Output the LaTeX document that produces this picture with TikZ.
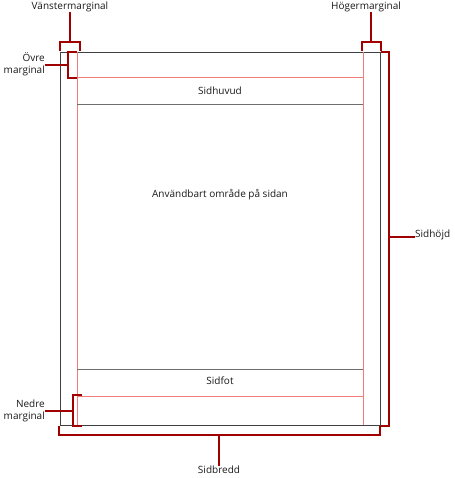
\documentclass[tikz,border=0pt]{standalone}
\usepackage{fontspec}
\setmainfont{Open Sans}
\usetikzlibrary{positioning, calc}
\definecolor{cdark}{HTML}{404040}
\definecolor{cline}{HTML}{6E6E6E}
\definecolor{cpink}{HTML}{F07C7C}
\definecolor{cmark}{HTML}{A00000}
\tikzset{
  every picture/.style={font=\fontsize{10}{12}\selectfont, x=1pt, y=-1pt},
  page/.style={draw=cdark, line width=0.9pt},
  guide/.style={draw=cpink, line width=0.7pt},
  rule/.style={draw=cline, line width=0.7pt},
  brace/.style={draw=cmark, line width=1.8pt, line cap=rect},
  lbl/.style={inner sep=1pt, text=black!90},
}
\begin{document}
\begin{tikzpicture}
  \useasboundingbox (0,0) rectangle (454,478);
  % the sheet
  \coordinate (pnw) at (60,52);
  \coordinate (pse) at (380,425);
  \draw[page] (pnw) rectangle (pse);
  % margin guides
  \draw[guide] (77,52) -- (77,425);
  \draw[guide] (363,52) -- (363,425);
  \draw[guide] (77,77) -- (363,77);
  \draw[guide] (77,396) -- (363,396);
  % header and footer rules
  \draw[rule] (77,104) -- (363,104);
  \draw[rule] (77,369) -- (363,369);
  \node[lbl] (head) at (220,91) {Sidhuvud};
  \node[lbl] (body) at (220,195) {Användbart område på sidan};
  \node[lbl] (foot) at (220,381) {Sidfot};
  % labels
  \node[lbl] (vm) at (70,7) {Vänstermarginal};
  \node[lbl] (hm) at (366,7) {Högermarginal};
  \node[lbl, align=right, anchor=east] (om) at (46,64) {Övre\\marginal};
  \node[lbl, align=right, anchor=east] (nm) at (46,411) {Nedre\\marginal};
  \node[lbl, anchor=west] (sh) at (414,235) {Sidhöjd};
  \node[lbl] (sb) at (219,470) {Sidbredd};
  % brackets
  \coordinate (vmb) at (70,42);
  \draw[brace] (60,50) -- (60,42) -- (80,42) -- (80,50);
  \draw[brace] (vmb) -- (vm.south -| vmb);
  \coordinate (hmb) at (371,42);
  \draw[brace] (362,50) -- (362,42) -- (381,42) -- (381,50);
  \draw[brace] (hmb) -- (hm.south -| hmb);
  \coordinate (omb) at (68,65);
  \draw[brace] (76,52) -- (68,52) -- (68,78) -- (76,78);
  \draw[brace] (omb) -- (om.east |- omb);
  \coordinate (nmb) at (73,411);
  \draw[brace] (81,395) -- (73,395) -- (73,426) -- (81,426);
  \draw[brace] (nmb) -- (nm.east |- nmb);
  \coordinate (shb) at (389,237);
  \draw[brace] (382,52) -- (389,52) -- (389,426) -- (382,426);
  \draw[brace] (shb) -- (sh.west |- shb);
  \coordinate (sbb) at (219,435);
  \draw[brace] (59,427) -- (59,435) -- (380,435) -- (380,427);
  \draw[brace] (sbb) -- (sb);
\end{tikzpicture}
\end{document}
